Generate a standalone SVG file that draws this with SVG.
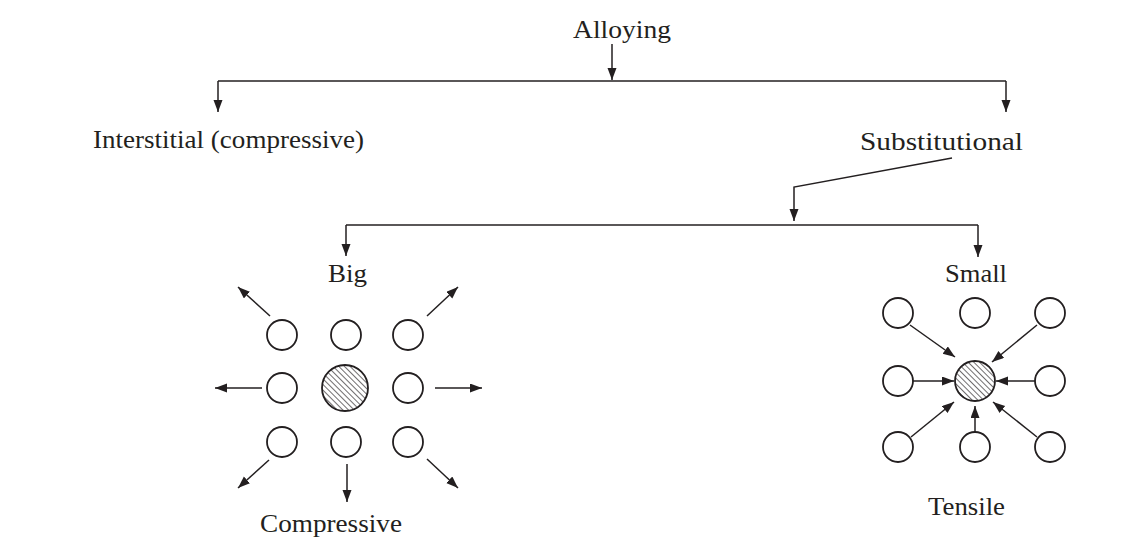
<svg xmlns="http://www.w3.org/2000/svg" width="1148" height="537" viewBox="0 0 1148 537">
  <style>
    .lbl { font-family: "Liberation Serif", "Times New Roman", serif; font-size: 26px; fill: #231f20; }
    .wire { fill: none; stroke: #231f20; stroke-width: 1.6; }
    .arr { fill: none; stroke: #231f20; stroke-width: 1.5; marker-end: url(#head); }
    .atom { fill: #ffffff; stroke: #231f20; stroke-width: 1.8; }
    .solute { fill: url(#hatch); stroke: #231f20; stroke-width: 1.8; }
  </style>
  <defs>
    <marker id="head" markerUnits="userSpaceOnUse" markerWidth="13" markerHeight="10" refX="12" refY="4.5" orient="auto">
      <path d="M0,0 L12,4.5 L0,9 z" fill="#231f20"/>
    </marker>
    <!-- back-slash hatching for the solute atoms -->
    <pattern id="hatch" patternUnits="userSpaceOnUse" width="4" height="4" patternTransform="rotate(-45)">
      <rect width="4" height="4" fill="#ffffff"/>
      <line x1="0" y1="0" x2="0" y2="4" stroke="#231f20" stroke-width="1.3"/>
    </pattern>
  </defs>
  <rect width="1148" height="537" fill="#ffffff"/>

  <!-- tree connectors -->
  <g id="connectors">
    <line class="arr" x1="612" y1="44" x2="612" y2="80"/>
    <polyline class="wire" points="218,81 1006,81"/>
    <line class="arr" x1="218" y1="81" x2="218" y2="112"/>
    <line class="arr" x1="1006" y1="81" x2="1006" y2="112"/>
    <polyline class="arr" points="952,158 794,187 794,221"/>
    <polyline class="wire" points="346,225 978,225"/>
    <line class="arr" x1="346" y1="225" x2="346" y2="256"/>
    <line class="arr" x1="978" y1="225" x2="978" y2="257"/>
  </g>

  <g id="alloying">
    <text class="lbl" x="573" y="38" textLength="98" lengthAdjust="spacingAndGlyphs">Alloying</text>
  </g>
  <g id="interstitial">
    <text class="lbl" x="93" y="148" textLength="271" lengthAdjust="spacingAndGlyphs">Interstitial (compressive)</text>
  </g>
  <g id="substitutional">
    <text class="lbl" x="860" y="150" textLength="163" lengthAdjust="spacingAndGlyphs">Substitutional</text>
  </g>

  <!-- large solute atom: neighbours pushed outward -->
  <g id="big">
    <text class="lbl" x="328" y="282" textLength="39" lengthAdjust="spacingAndGlyphs">Big</text>
    <circle class="atom" cx="282" cy="335" r="15"/>
    <circle class="atom" cx="346" cy="335" r="15"/>
    <circle class="atom" cx="408" cy="335" r="15"/>
    <circle class="atom" cx="282" cy="388" r="15"/>
    <circle class="solute" cx="345" cy="388" r="23"/>
    <circle class="atom" cx="408" cy="388" r="15"/>
    <circle class="atom" cx="282" cy="442" r="15"/>
    <circle class="atom" cx="346" cy="442" r="15"/>
    <circle class="atom" cx="408" cy="442" r="15"/>
    <line class="arr" x1="270" y1="316" x2="238" y2="287"/>
    <line class="arr" x1="427" y1="316" x2="458" y2="287"/>
    <line class="arr" x1="262" y1="388" x2="215" y2="388"/>
    <line class="arr" x1="435" y1="388" x2="482" y2="388"/>
    <line class="arr" x1="269" y1="460" x2="238" y2="488"/>
    <line class="arr" x1="347" y1="464" x2="347" y2="502"/>
    <line class="arr" x1="427" y1="459" x2="458" y2="488"/>
    <text class="lbl" x="260" y="532" textLength="142" lengthAdjust="spacingAndGlyphs">Compressive</text>
  </g>

  <!-- small solute atom: neighbours pulled inward -->
  <g id="small">
    <text class="lbl" x="945" y="282" textLength="62" lengthAdjust="spacingAndGlyphs">Small</text>
    <circle class="atom" cx="898" cy="313" r="15"/>
    <circle class="atom" cx="975" cy="313" r="15"/>
    <circle class="atom" cx="1050" cy="313" r="15"/>
    <circle class="atom" cx="898" cy="381" r="15"/>
    <circle class="solute" cx="975" cy="381" r="20"/>
    <circle class="atom" cx="1050" cy="381" r="15"/>
    <circle class="atom" cx="898" cy="447" r="15"/>
    <circle class="atom" cx="975" cy="447" r="15"/>
    <circle class="atom" cx="1050" cy="447" r="15"/>
    <line class="arr" x1="910" y1="325" x2="955" y2="357"/>
    <line class="arr" x1="1037" y1="325" x2="992" y2="362"/>
    <line class="arr" x1="913" y1="381" x2="954" y2="381"/>
    <line class="arr" x1="1035" y1="381" x2="996" y2="381"/>
    <line class="arr" x1="911" y1="437" x2="954" y2="402"/>
    <line class="arr" x1="975" y1="432" x2="975" y2="406"/>
    <line class="arr" x1="1037" y1="437" x2="993" y2="402"/>
    <text class="lbl" x="928" y="515" textLength="77" lengthAdjust="spacingAndGlyphs">Tensile</text>
  </g>
</svg>
